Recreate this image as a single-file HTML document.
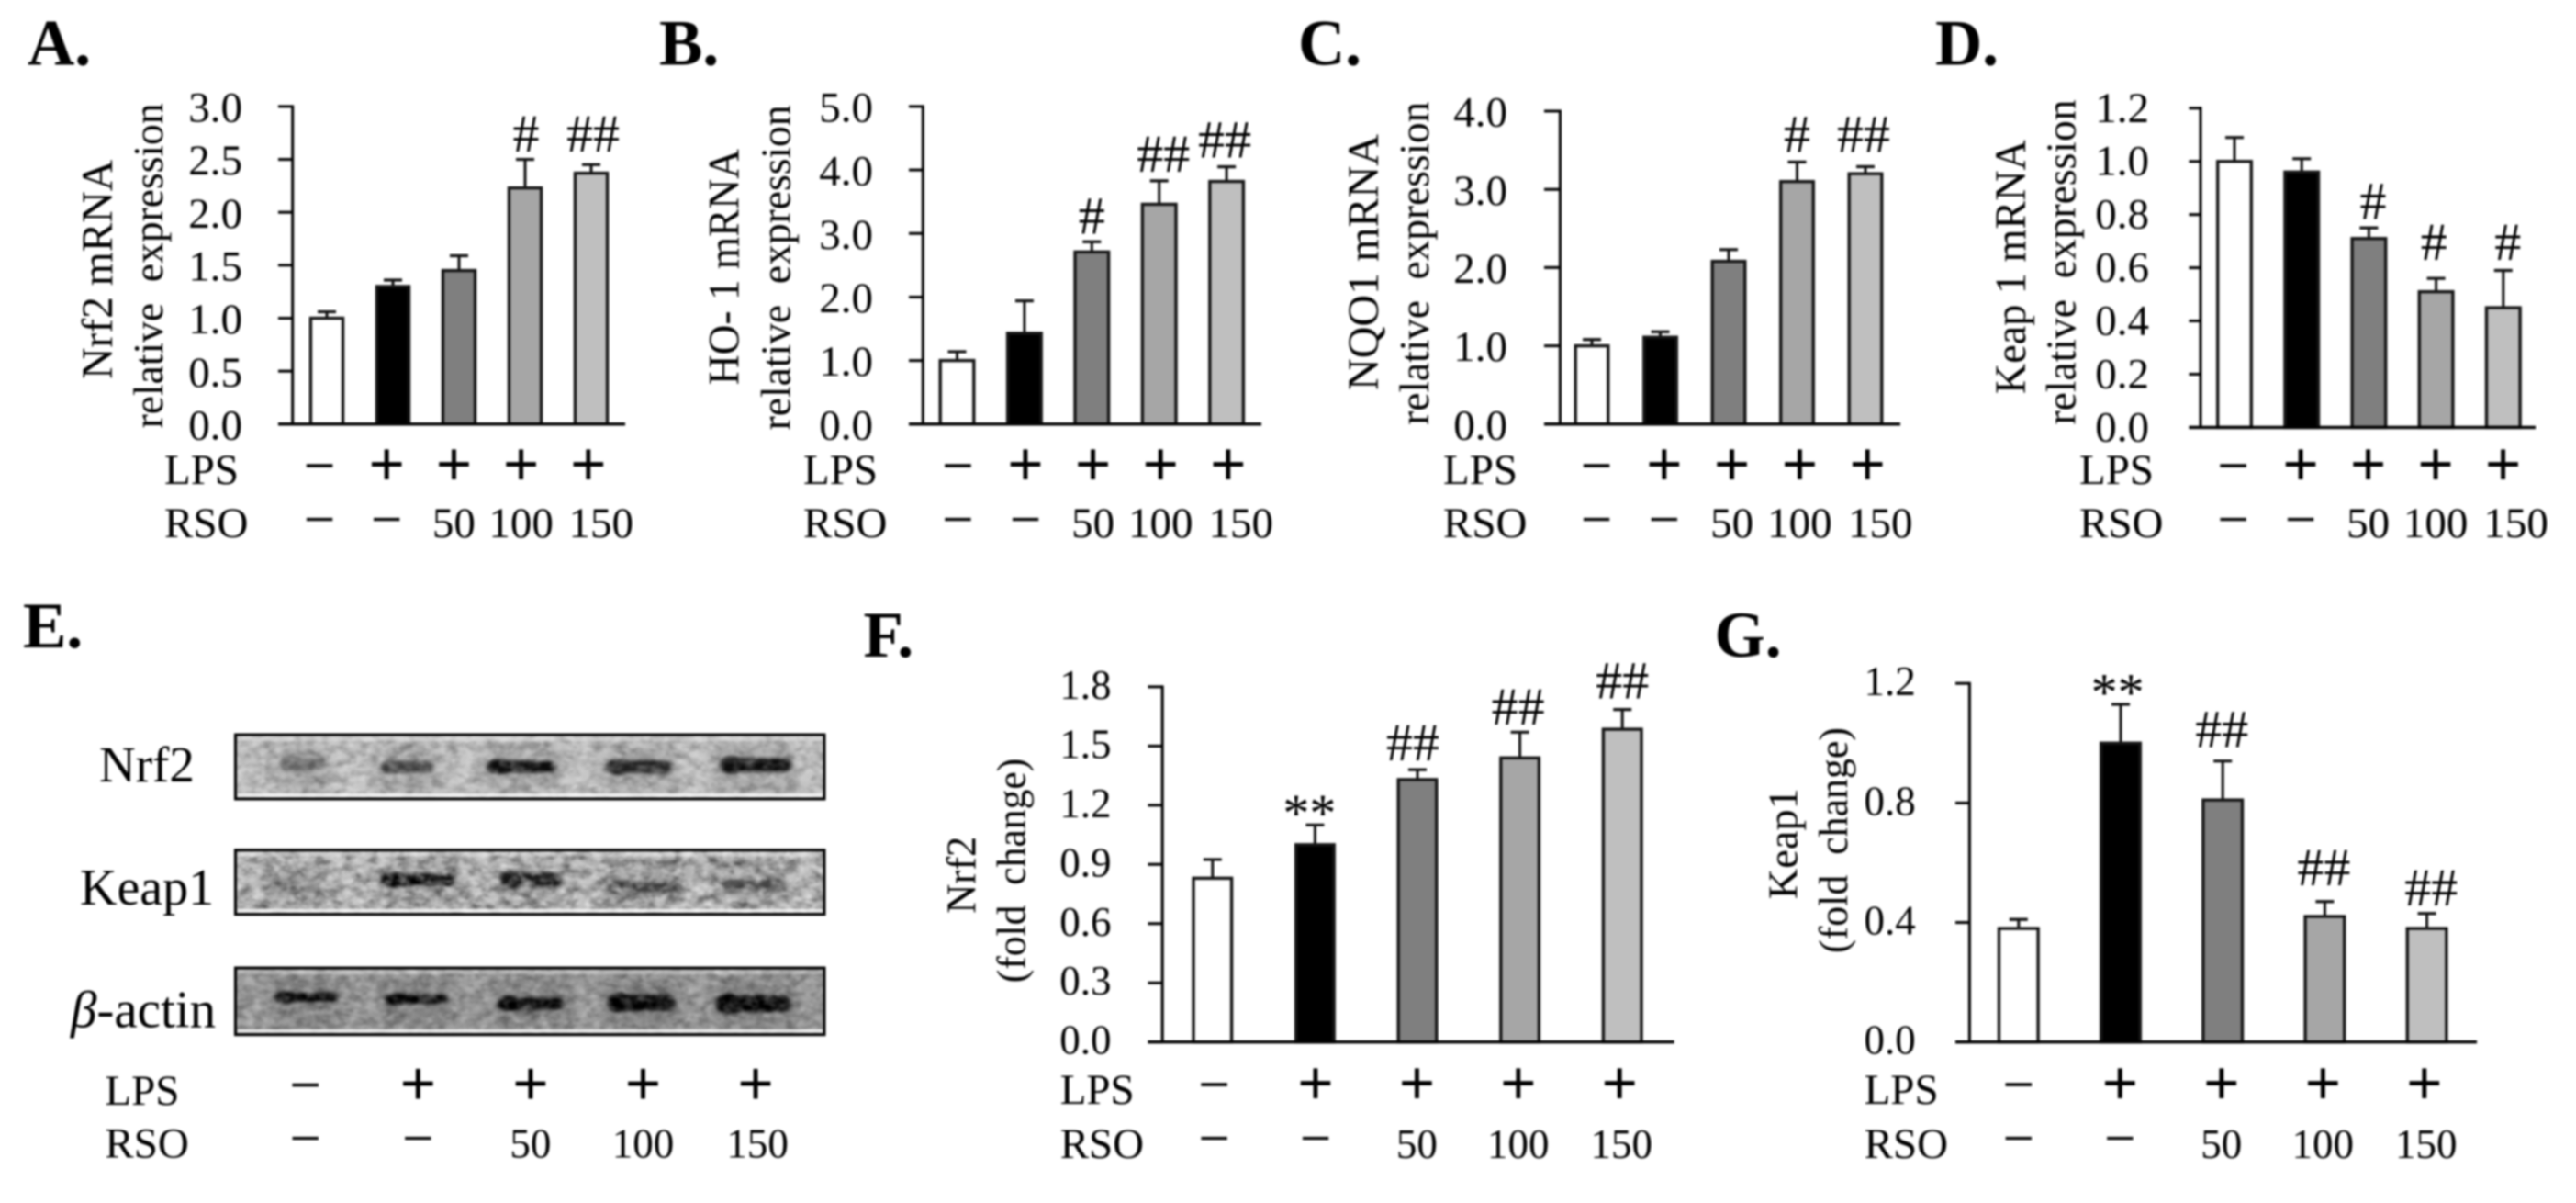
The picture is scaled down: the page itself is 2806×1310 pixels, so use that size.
<!DOCTYPE html>
<html>
<head>
<meta charset="utf-8">
<title>Nrf2 / Keap1 expression figure</title>
<style>
html,body{margin:0;padding:0;background:#fff;}
#figure{display:block;width:2806px;height:1310px;filter:blur(1px);}
text{font-family:"Liberation Serif",serif;fill:#000;white-space:pre;}
</style>
</head>
<body>
<svg id="figure" xmlns="http://www.w3.org/2000/svg" width="2806" height="1310" viewBox="0 0 2806 1310">
  <defs>
    <filter id="band-blur" x="-40%" y="-150%" width="180%" height="400%"><feGaussianBlur stdDeviation="2.6 1.8"/></filter>
    <filter id="halo-blur" x="-40%" y="-100%" width="180%" height="300%"><feGaussianBlur stdDeviation="7 6"/></filter>
    <filter id="membrane-noise" x="0" y="0" width="100%" height="100%">
      <feTurbulence type="fractalNoise" baseFrequency="0.07 0.11" numOctaves="3" seed="7"/>
      <feColorMatrix type="matrix" values="0 0 0 0 0  0 0 0 0 0  0 0 0 0 0  1.2 1.2 0 0 -0.95"/>
    </filter>
    <filter id="membrane-speck" x="0" y="0" width="100%" height="100%">
      <feTurbulence type="fractalNoise" baseFrequency="0.09 0.12" numOctaves="2" seed="21"/>
      <feColorMatrix type="matrix" values="0 0 0 0 1  0 0 0 0 1  0 0 0 0 1  1.2 1.2 0 0 -0.95"/>
    </filter>
  </defs>
  <rect x="0" y="0" width="2806" height="1310" fill="#ffffff"/>
  <g id="panel-a"></g>
  <g id="panel-b"></g>
  <g id="panel-c"></g>
  <g id="panel-d"></g>
  <g id="panel-e"></g>
  <g id="panel-f"></g>
  <g id="panel-g"></g>
</svg>
<script>
// ---- shared categories ----
const lpsLabels = ['\u2212', '+', '+', '+', '+'];
const rsoLabels = ['\u2212', '\u2212', '50', '100', '150'];
const barFills = ['#ffffff', '#000000', '#7f7f7f', '#a6a6a6', '#bfbfbf'];

// ---- panel A ----
const panelATicks = [0, 0.5, 1, 1.5, 2, 2.5, 3];
const panelAValues = [1.0, 1.3, 1.45, 2.23, 2.37];
const panelAErrors = [0.06, 0.06, 0.14, 0.27, 0.08];
const panelAMarks = ['', '', '', '#', '##'];
const panelAMarkLevels = [0, 0, 0, 2.74, 2.74];

// ---- panel B ----
const panelBTicks = [0, 1, 2, 3, 4, 5];
const panelBValues = [1.0, 1.43, 2.71, 3.46, 3.82];
const panelBErrors = [0.14, 0.51, 0.16, 0.37, 0.23];
const panelBMarks = ['', '', '#', '##', '##'];
const panelBMarkLevels = [0, 0, 3.27, 4.25, 4.47];

// ---- panel C ----
const panelCTicks = [0, 1, 2, 3, 4];
const panelCValues = [1.0, 1.11, 2.08, 3.1, 3.2];
const panelCErrors = [0.08, 0.07, 0.15, 0.25, 0.09];
const panelCMarks = ['', '', '', '#', '##'];
const panelCMarkLevels = [0, 0, 0, 3.7, 3.7];

// ---- panel D ----
const panelDTicks = [0, 0.2, 0.4, 0.6, 0.8, 1.0, 1.2];
const panelDValues = [1.0, 0.96, 0.71, 0.51, 0.45];
const panelDErrors = [0.09, 0.05, 0.04, 0.05, 0.14];
const panelDMarks = ['', '', '#', '#', '#'];
const panelDMarkLevels = [0, 0, 0.849, 0.696, 0.696];

// ---- panel E (blot band densities, 0..1) ----
const blotNrf2Density = [0.38, 0.6, 0.9, 0.82, 0.92];
const blotKeap1Density = [0.22, 1.0, 0.85, 0.55, 0.48];
const blotActinDensity = [1.0, 1.0, 1.0, 1.0, 1.0];

// ---- panel F ----
const panelFTicks = [0, 0.3, 0.6, 0.9, 1.2, 1.5, 1.8];
const panelFValues = [0.83, 1.0, 1.33, 1.44, 1.585];
const panelFErrors = [0.095, 0.10, 0.05, 0.13, 0.10];
const panelFMarks = ['', '**', '##', '##', '##'];
const panelFMarkLevels = [0, 1.19, 1.515, 1.698, 1.829];

// ---- panel G ----
const panelGTicks = [0, 0.4, 0.8, 1.2];
const panelGValues = [0.38, 1.0, 0.81, 0.42, 0.38];
const panelGErrors = [0.03, 0.13, 0.13, 0.05, 0.05];
const panelGMarks = ['', '**', '##', '##', '##'];
const panelGMarkLevels = [0, 1.19, 1.045, 0.583, 0.516];

const NS = 'http://www.w3.org/2000/svg';
function mk(parent, tag, attrs) {
  const el = document.createElementNS(NS, tag);
  for (const k in attrs) el.setAttribute(k, attrs[k]);
  parent.appendChild(el);
  return el;
}
function mkText(parent, str, attrs) {
  const el = mk(parent, 'text', attrs);
  el.textContent = str;
  return el;
}

function panelLetter(g, str, x, y) {
  const el = mkText(g, str, {x: x, y: y, 'font-size': 71, 'font-weight': 'bold'});
  
  
}

function drawRows(g, r) {
  const markX = i => r.markX0 + i * r.markStep;
  const lpsTitle = mkText(g, 'LPS', {x: r.labelX, y: r.lpsBase, 'font-size': 47});
  
  
  const rsoTitle = mkText(g, 'RSO', {x: r.labelX, y: r.rsoBase, 'font-size': 47});
  
  
  lpsLabels.forEach((s, i) => {
    const isPlus = s === '+';
    const el = mkText(g, s, {
      x: markX(i),
      y: r.markY + (isPlus ? 20 : 18),
      'font-size': isPlus ? 70 : 60,
      'font-weight': isPlus ? 'bold' : 'normal',
      'text-anchor': 'middle',
      stroke: '#000',
      'stroke-width': isPlus ? 0 : 0.7
    });
    
    
  });
  rsoLabels.forEach((s, i) => {
    const isDash = s === '\u2212';
    const el = mkText(g, s, {
      x: markX(i) + (i === 4 ? r.lastDx : 0),
      y: isDash ? r.dashY + 18 : r.rsoBase,
      'font-size': isDash ? 60 : r.doseSize,
      'text-anchor': 'middle',
      stroke: isDash ? '#444' : 'none',
      'stroke-width': isDash ? 0.7 : 0
    });
    
    
  });
}

function drawPanel(cfg) {
  const g = document.getElementById(cfg.id);
  const yMax = cfg.ticks[cfg.ticks.length - 1];
  const y = v => cfg.base - (v / yMax) * (cfg.base - cfg.top);
  const x = i => cfg.x0 + i * cfg.step;

  panelLetter(g, cfg.letter, cfg.letterX, cfg.letterY);

  // y-axis titles
  const t1 = mkText(g, cfg.title, {
    transform: 'translate(' + cfg.t1x + ',' + cfg.t1y + ') rotate(-90)',
    'text-anchor': 'middle', 'font-size': cfg.t1size,
    textLength: cfg.t1len, lengthAdjust: 'spacingAndGlyphs'
  });
  
  
  const t2 = mkText(g, cfg.subtitle, {
    transform: 'translate(' + cfg.t2x + ',' + cfg.t2y + ') rotate(-90)',
    'text-anchor': 'middle', 'font-size': cfg.t2size,
    textLength: cfg.t2len, lengthAdjust: 'spacingAndGlyphs'
  });
  
  

  // bars + error bars
  cfg.values.forEach((v, i) => {
    const err = cfg.errors[i];
    const cx = x(i);
    const stem = mk(g, 'line', {x1: cx, x2: cx, y1: y(v), y2: y(v + err), stroke: '#111', 'stroke-width': 3});
    
    
    const cap = mk(g, 'line', {x1: cx - 10, x2: cx + 10, y1: y(v + err), y2: y(v + err), stroke: '#111', 'stroke-width': 3.2});
    
    
    const bar = mk(g, 'rect', {
      x: cx - cfg.barW / 2 + 1.7, y: y(v), width: cfg.barW - 3.4, height: cfg.base - y(v),
      fill: barFills[i], stroke: '#161616', 'stroke-width': 3.4
    });
    
    
    if (cfg.marks[i]) {
      const isStar = cfg.marks[i].indexOf('*') >= 0;
      const m = mkText(g, cfg.marks[i], {
        x: cx + cfg.markShift[i], y: y(cfg.markLevels[i]) + (isStar ? 26 : 19),
        'text-anchor': 'middle', 'font-size': isStar ? 58 : 58, fill: isStar ? '#333' : '#000'
      });
      
      
    }
  });

  // axes
  const yAxis = mk(g, 'line', {x1: cfg.axisX, x2: cfg.axisX, y1: cfg.top - 1.5, y2: cfg.base, stroke: '#000', 'stroke-width': 3});
  
  
  const xAxis = mk(g, 'line', {x1: cfg.tickLeft, x2: cfg.xEnd, y1: cfg.base, y2: cfg.base, stroke: '#000', 'stroke-width': 3.4});
  
  

  cfg.ticks.forEach(t => {
    const tick = mk(g, 'line', {x1: cfg.tickLeft, x2: cfg.axisX, y1: y(t), y2: y(t), stroke: '#000', 'stroke-width': 3});
    
    
    const label = mkText(g, t.toFixed(1), {x: cfg.labelRight, y: y(t) + cfg.labelDy, 'text-anchor': 'end', 'font-size': cfg.tickSize});
    
    
  });

  drawRows(g, cfg.rows);
}

const topRow = {lpsBase: 527, rsoBase: 585, markY: 509, dashY: 567.4, lastDx: 14, doseSize: 47};
const lowRow = {lpsBase: 1202, rsoBase: 1261, markY: 1183, dashY: 1241.7, lastDx: 2, doseSize: 45};

drawPanel({
  id: 'panel-a', letter: 'A.', letterX: 30, letterY: 70.4,
  ticks: panelATicks, values: panelAValues, errors: panelAErrors, marks: panelAMarks, markLevels: panelAMarkLevels,
  markShift: [0, 0, 0, 1, 2],
  axisX: 318.7, tickLeft: 303, xEnd: 681, top: 115.9, base: 461.8, x0: 356, step: 72, barW: 38.5,
  labelRight: 264, labelDy: 16.6, tickSize: 47,
  title: 'Nrf2 mRNA', t1x: 122, t1y: 293.4, t1size: 48, t1len: 239,
  subtitle: 'relative  expression', t2x: 177, t2y: 289.4, t2size: 46, t2len: 354,
  rows: Object.assign({}, topRow, {labelX: 179, markX0: 348, markStep: 73.2})
});
drawPanel({
  id: 'panel-b', letter: 'B.', letterX: 718, letterY: 70.4,
  ticks: panelBTicks, values: panelBValues, errors: panelBErrors, marks: panelBMarks, markLevels: panelBMarkLevels,
  markShift: [0, 0, 0, 4.6, -2],
  axisX: 1005.3, tickLeft: 990, xEnd: 1374, top: 115.9, base: 461.8, x0: 1042.5, step: 73.4, barW: 40,
  labelRight: 951, labelDy: 16.6, tickSize: 47,
  title: 'HO- 1 mRNA', t1x: 804.7, t1y: 290.6, t1size: 48, t1len: 257,
  subtitle: 'relative  expression', t2x: 860.7, t2y: 291.4, t2size: 46, t2len: 354,
  rows: Object.assign({}, topRow, {labelX: 875, markX0: 1043.4, markStep: 73.6})
});
drawPanel({
  id: 'panel-c', letter: 'C.', letterX: 1414, letterY: 70.4,
  ticks: panelCTicks, values: panelCValues, errors: panelCErrors, marks: panelCMarks, markLevels: panelCMarkLevels,
  markShift: [0, 0, 0, 0, -2],
  axisX: 1699.4, tickLeft: 1682, xEnd: 2070, top: 121, base: 461.8, x0: 1734, step: 74.5, barW: 39,
  labelRight: 1642, labelDy: 16.6, tickSize: 47,
  title: 'NQO1 mRNA', t1x: 1501, t1y: 285.5, t1size: 48, t1len: 279,
  subtitle: 'relative  expression', t2x: 1556, t2y: 286.7, t2size: 46, t2len: 352,
  rows: Object.assign({}, topRow, {labelX: 1572, markX0: 1739, markStep: 73.8})
});
drawPanel({
  id: 'panel-d', letter: 'D.', letterX: 2108, letterY: 70.4,
  ticks: panelDTicks, values: panelDValues, errors: panelDErrors, marks: panelDMarks, markLevels: panelDMarkLevels,
  markShift: [0, 0, 4.6, -2.3, 5],
  axisX: 2397, tickLeft: 2384.4, xEnd: 2762, top: 117.8, base: 465.4, x0: 2434, step: 73.2, barW: 40,
  labelRight: 2341, labelDy: 15, tickSize: 47,
  title: 'Keap 1 mRNA', t1x: 2206, t1y: 290.6, t1size: 48, t1len: 277,
  subtitle: 'relative  expression', t2x: 2260.5, t2y: 285.5, t2size: 46, t2len: 354,
  rows: Object.assign({}, topRow, {labelX: 2265, markX0: 2432.6, markStep: 73.5})
});
drawPanel({
  id: 'panel-f', letter: 'F.', letterX: 940.5, letterY: 715,
  ticks: panelFTicks, values: panelFValues, errors: panelFErrors, marks: panelFMarks, markLevels: panelFMarkLevels,
  markShift: [0, -6, -5, -2, 0],
  axisX: 1266.2, tickLeft: 1250.4, xEnd: 1823.7, top: 747.9, base: 1134.7, x0: 1320.8, step: 111.6, barW: 45,
  labelRight: 1210.5, labelDy: 13, tickSize: 45,
  title: 'Nrf2', t1x: 1062.6, t1y: 952.7, t1size: 45, t1len: 84,
  subtitle: '(fold  change)', t2x: 1116.6, t2y: 948, t2size: 44, t2len: 244.6,
  rows: Object.assign({}, lowRow, {labelX: 1154.7, markX0: 1322.6, markStep: 110.4})
});
drawPanel({
  id: 'panel-g', letter: 'G.', letterX: 1867.5, letterY: 715,
  ticks: panelGTicks, values: panelGValues, errors: panelGErrors, marks: panelGMarks, markLevels: panelGMarkLevels,
  markShift: [0, -3.4, -1, -1, 4.6],
  axisX: 2145.4, tickLeft: 2130, xEnd: 2698, top: 744.2, base: 1134.7, x0: 2198.8, step: 111.2, barW: 46,
  labelRight: 2086.8, labelDy: 13, tickSize: 45,
  title: 'Keap1', t1x: 1957.7, t1y: 918.7, t1size: 45, t1len: 121,
  subtitle: '(fold  change)', t2x: 2012, t2y: 915, t2size: 44, t2len: 246,
  rows: Object.assign({}, lowRow, {labelX: 2030.6, markX0: 2198.8, markStep: 110.5})
});

// ---- panel E: western blot image (density drives band darkness) ----
function drawBlot(g, b) {
  const w = 641.5, left = 256.5;
  const laneX = i => 332 + i * 123;
  const bg = mk(g, 'rect', {x: left, y: b.top, width: w, height: b.h, fill: b.bg});
  
  
  b.density.forEach((d, i) => {
    const s = b.shapes[i];
    const halo = mk(g, 'rect', {
      x: laneX(i) + s[0] - s[2] / 2 - 6, y: b.top + 8, width: s[2] + 12, height: b.h - 14,
      fill: '#000', opacity: b.haloOpacity, filter: 'url(#halo-blur)'
    });
    
    
  });
  b.density.forEach((d, i) => {
    const s = b.shapes[i];
    const c = Math.round(175 * (1 - d));
    const fill = 'rgb(' + c + ',' + c + ',' + c + ')';
    const band = mk(g, 'rect', {
      x: laneX(i) + s[0] - s[2] / 2, y: b.cy + s[1] - s[3] / 2,
      width: s[2], height: s[3], rx: s[3] / 2, fill: fill, filter: 'url(#band-blur)'
    });
    
    
    const core = mk(g, 'ellipse', {
      cx: laneX(i) + s[0] - s[2] * 0.33, cy: b.cy + s[1], rx: s[2] * 0.14, ry: s[3] * 0.62,
      fill: fill, filter: 'url(#band-blur)'
    });
    
    
  });
  const noise = mk(g, 'rect', {x: left, y: b.top, width: w, height: b.h, filter: 'url(#membrane-noise)', opacity: b.noise});
  
  
  const speck = mk(g, 'rect', {x: left, y: b.top, width: w, height: b.h, filter: 'url(#membrane-speck)', opacity: b.noise});
  
  
  const glowBottom = mk(g, 'rect', {x: left + 2, y: b.top + b.h - 6, width: w - 4, height: 4, fill: '#fff', opacity: 0.75});
  
  
  const glowTop = mk(g, 'rect', {x: left + 2, y: b.top + 2, width: w - 4, height: 5, fill: '#fff', opacity: 0.3});
  
  
  const frame = mk(g, 'rect', {x: left, y: b.top, width: w, height: b.h, fill: 'none', stroke: '#000', 'stroke-width': 3});
  
  
}
const panelE = document.getElementById('panel-e');
panelLetter(panelE, 'E.', 25, 705);
drawBlot(panelE, {
  top: 800, h: 70, bg: '#c6c6c6', cy: 834, noise: 0.35, haloOpacity: 0.13, density: blotNrf2Density,
  shapes: [[-2, -2, 48, 13], [-11, 1, 56, 13], [-10, 1, 74, 13], [-5, 1, 70, 14], [-1, -1, 78, 15]]
});
drawBlot(panelE, {
  top: 925.7, h: 70, bg: '#bcbcbc', cy: 961, noise: 0.6, haloOpacity: 0.12, density: blotKeap1Density,
  shapes: [[-12, 4, 54, 14], [1, -3, 80, 13], [1, -3, 66, 15], [1, 5, 80, 13], [-3, 4, 68, 13]]
});
drawBlot(panelE, {
  top: 1054, h: 72.7, bg: '#9a9a9a', cy: 1090, noise: 0.35, haloOpacity: 0.14, density: blotActinDensity,
  shapes: [[2, -4, 68, 10], [-1, -2, 68, 10], [0, 3, 72, 13], [-2, 2, 74, 18], [-3, 3, 82, 18]]
});

const nrf2Blot = mkText(panelE, 'Nrf2', {x: 108, y: 851, 'font-size': 55});


const keap1Blot = mkText(panelE, 'Keap1', {x: 87, y: 985, 'font-size': 56});


const actinBlot = mkText(panelE, '', {x: 77, y: 1118.6, 'font-size': 57});


const beta = mk(actinBlot, 'tspan', {'font-style': 'italic'});
beta.textContent = '\u03b2';
const actinRest = mk(actinBlot, 'tspan', {});
actinRest.textContent = '-actin';

drawRows(panelE, {labelX: 114.4, lpsBase: 1202.8, rsoBase: 1260.5, markY: 1183.6, dashY: 1241.7, markX0: 332.7, markStep: 122.6, lastDx: 2, doseSize: 45});
</script>
</body>
</html>
